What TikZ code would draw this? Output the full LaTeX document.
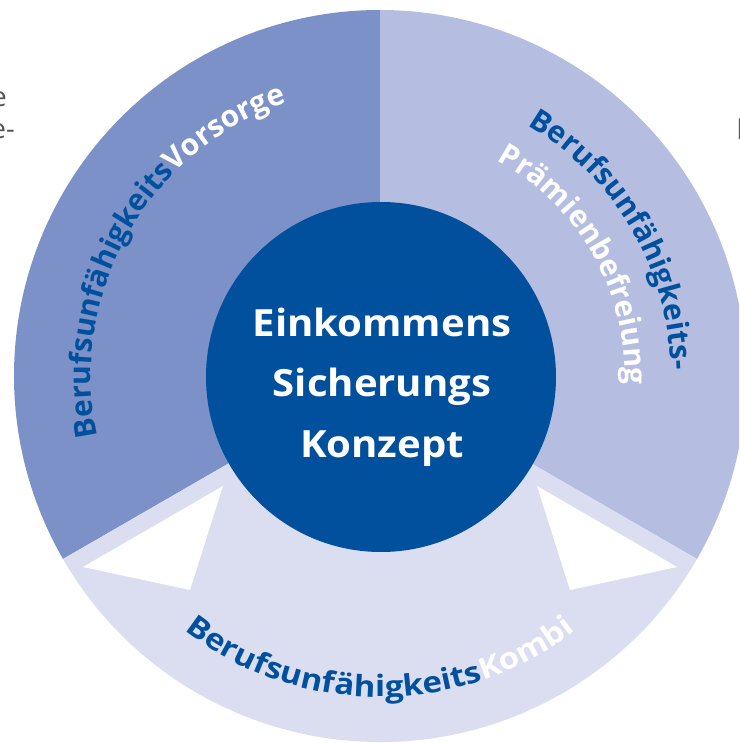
\documentclass[tikz,border=0pt]{standalone}
\usepackage{fontspec}
\setmainfont{Open Sans}
\newfontfamily\wfont{Open Sans}
\newfontfamily\bfont{Open Sans}[FakeStretch=1.12]
\newfontfamily\cfont{Open Sans}[FakeStretch=1.07]
\usetikzlibrary{decorations.text}
\definecolor{lsec}{HTML}{7B91C7}
\definecolor{rsec}{HTML}{B5BEE1}
\definecolor{bsec}{HTML}{DBDEF1}
\definecolor{dblue}{HTML}{00509E}
\definecolor{fraggray}{HTML}{555555}
\newcommand\arcfmt{\wfont\bfseries\fontsize{30}{32}\selectfont}
\newcommand\botfmt{\bfont\bfseries\fontsize{29.5}{31}\selectfont}
\tikzset{
  arctext/.style={decorate, decoration={text along path, text align=left, text={#1}}},
  arctextc/.style={decorate, decoration={text along path, text align=center, text={#1}}},
  centertext/.style={text=white, font=\cfont\bfseries\fontsize{37.5}{40}\selectfont, inner sep=0pt, anchor=base},
  fragtext/.style={text=fraggray, font=\fontsize{27}{30}\selectfont, inner sep=0pt},
}
\begin{document}
\begin{tikzpicture}[x=1pt,y=1pt]
\useasboundingbox (-380,-367) rectangle (359,376);
\clip (-380,-367) rectangle (359,376);
% sectors
\fill[lsec] (0,0) -- (90:366pt) arc[start angle=90, end angle=210, radius=366pt] -- cycle;
\fill[rsec] (0,0) -- (-30:366pt) arc[start angle=-30, end angle=90, radius=366pt] -- cycle;
\fill[bsec] (0,0) -- (210:366pt) arc[start angle=210, end angle=330, radius=366pt] -- cycle;
% white arrowheads
\fill[white] (-297,-191) -- (-157,-110) -- (-190,-214) -- cycle;
\fill[white] (297,-191) -- (157,-110) -- (190,-214) -- cycle;
% inner circle
\fill[dblue] (1,-1) circle[radius=175pt];
% center text
\node[centertext] (t1) at (2,39.3) {Einkommens};
\node[centertext] (t2) at (2,-20.7) {Sicherungs};
\node[centertext] (t3) at (2,-82) {Konzept};
% arc texts
\path[arctext={|\arcfmt\color{dblue}|Berufsunfähigkeits|\arcfmt\color{white}|Vorsorge}]
  (192:289pt) arc[start angle=192, end angle=95, radius=289pt];
\path[arctext={|\arcfmt\color{dblue}|Berufsunfähigkeits-}]
  (59.5:291pt) arc[start angle=59.5, end angle=-12, radius=291pt];
\path[arctext={|\arcfmt\color{white}|Prämienbefreiung}]
  (61.5:245pt) arc[start angle=61.5, end angle=-15, radius=245pt];
\path[arctextc={|\botfmt\color{dblue}|Berufsunfähigkeits|\botfmt\color{white}|Kombi}]
  (231:321pt) arc[start angle=231, end angle=309, radius=321pt];
% fragments of surrounding text
\node[fragtext, anchor=base east] (f1) at (-373,269) {e};
\node[fragtext, anchor=base east] (f2) at (-365,237) {e-};
\node[fragtext, anchor=base west] (f3) at (356.5,236) {l};
\end{tikzpicture}
\end{document}
